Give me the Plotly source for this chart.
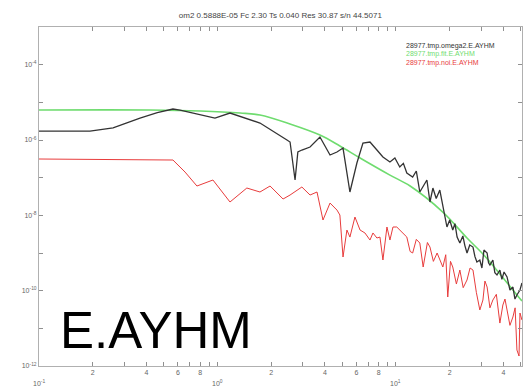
import math
import plotly.graph_objects as go

# Spectrum of the record (black)
sig_freq = [0.100, 0.193, 0.260, 0.368, 0.460, 0.563, 0.617, 0.968, 1.175, 1.73, 2.45, 2.55,
            2.72, 2.82, 2.97, 3.30, 3.75, 4.27, 4.67, 5.05, 5.52, 6.04, 6.53, 7.15, 7.82,
            8.45, 9.25, 9.86, 10.5, 11.0, 11.5, 12.4, 13.0, 13.6, 14.9, 15.5, 16.1, 16.8,
            17.6, 18.3, 19.3, 20.0, 20.8, 21.4, 22.0, 22.8, 23.7, 24.3, 25.0, 25.9, 27.0,
            27.7, 28.4, 29.5, 30.3, 31.1, 32.4, 33.0, 33.6, 34.9, 35.8, 36.8, 38.2, 39.2,
            40.3, 41.9, 42.7, 43.5, 45.2, 46.4, 47.6, 49.5, 50.8]
sig_amp = [1.73e-6, 1.73e-6, 2.10e-6, 3.83e-6, 5.30e-6, 6.64e-6, 6.25e-6, 3.83e-6, 5.20e-6,
           2.82e-6, 9.97e-7, 8.83e-7, 8.67e-8, 4.80e-7, 5.42e-7, 6.52e-7, 1.20e-6, 3.99e-7,
           4.80e-7, 6.12e-7, 4.16e-8, 2.45e-7, 8.31e-7, 8.83e-7, 5.42e-7, 3.53e-7, 2.60e-7,
           3.33e-7, 1.92e-7, 2.40e-7, 1.33e-7, 1.04e-7, 1.50e-7, 4.16e-8, 8.67e-8, 2.26e-8,
           5.31e-8, 2.80e-8, 4.70e-8, 1.66e-8, 4.90e-9, 7.52e-9, 4.07e-9, 6.00e-9, 2.65e-9,
           1.84e-9, 2.83e-9, 1.60e-9, 1.00e-9, 1.63e-9, 1.44e-9, 8.00e-10, 5.77e-10, 6.52e-10,
           4.00e-10, 1.20e-9, 1.00e-9, 5.50e-10, 4.80e-10, 6.52e-10, 3.00e-10, 2.61e-10,
           3.53e-10, 2.00e-10, 3.13e-10, 2.31e-10, 1.50e-10, 1.04e-10, 1.25e-10, 6.00e-11,
           7.68e-11, 1.04e-10, 1.60e-10]

# Fitted omega-square model (green)
fit_freq = [0.100, 0.42, 0.80, 1.34, 1.73, 2.55, 3.75, 4.85, 6.29, 9.25, 12.0, 18.3, 25.0,
            30.7, 38.2, 47.6, 50.8]
fit_amp = [6.25e-6, 6.25e-6, 5.88e-6, 5.20e-6, 4.60e-6, 2.65e-6, 1.35e-6, 6.92e-7, 3.33e-7,
           1.17e-7, 6.00e-8, 1.22e-8, 2.50e-9, 9.40e-10, 2.77e-10, 7.68e-11, 5.31e-11]

# Noise spectrum (red)
noise_freq = [0.100, 0.563, 0.658, 0.767, 0.943, 1.175, 1.46, 1.73, 1.97, 2.33, 2.55, 2.82,
              2.97, 3.30, 3.61, 3.90, 4.27, 4.67, 4.85, 5.05, 5.31, 5.52, 5.89, 6.29, 6.70,
              7.15, 7.43, 7.82, 8.13, 8.45, 8.90, 9.25, 9.62, 10.1, 10.5, 10.9, 11.5, 12.0,
              12.4, 13.0, 13.6, 14.2, 14.5, 15.0, 15.5, 16.2, 17.0, 17.6, 18.3, 19.0, 19.5,
              20.2, 20.8, 21.8, 22.8, 23.8, 25.0, 26.0, 27.0, 28.2, 29.5, 30.7, 31.5, 32.4,
              33.6, 34.9, 36.5, 38.2, 39.7, 40.8, 41.9, 43.5, 45.2, 46.5, 47.6, 48.9, 49.5,
              50.8]
noise_amp = [3.13e-7, 2.94e-7, 1.41e-7, 6.00e-8, 8.67e-8, 2.26e-8, 5.31e-8, 4.16e-8, 6.00e-8,
             2.71e-8, 3.46e-8, 4.70e-8, 5.65e-8, 3.46e-8, 4.16e-8, 7.52e-9, 2.12e-8, 1.38e-8,
             1.02e-8, 7.83e-10, 4.07e-9, 2.65e-9, 9.02e-9, 4.07e-9, 3.40e-9, 2.21e-9, 3.40e-9,
             2.50e-9, 2.65e-9, 6.52e-10, 4.90e-9, 2.21e-9, 4.90e-9, 4.90e-9, 4.07e-9, 3.61e-9,
             2.65e-9, 1.10e-9, 1.00e-9, 2.30e-9, 1.84e-9, 4.25e-10, 7.36e-10, 1.90e-9,
             1.44e-9, 6.00e-10, 1.00e-9, 7.00e-10, 4.25e-10, 9.00e-10, 6.79e-11, 6.00e-10,
             4.25e-10, 1.50e-10, 3.53e-10, 1.20e-10, 1.92e-10, 4.00e-10, 3.53e-10, 9.00e-11,
             3.07e-11, 5.65e-11, 1.80e-10, 1.25e-10, 3.50e-11, 5.65e-11, 8.00e-11, 1.38e-11,
             4.16e-11, 6.00e-11, 3.07e-11, 1.20e-11, 2.00e-11, 3.50e-11, 2.66e-12, 1.84e-12,
             2.55e-11, 1.66e-11]

legend_names = ["28977.tmp.omega2.E.AYHM", "28977.tmp.fit.E.AYHM", "28977.tmp.noi.E.AYHM"]
legend_colors = ["#333333", "#6fdc6f", "#e83c3c"]

title_text = "om2 0.5888E-05 Fc 2.30 Ts 0.040 Res 30.87 s/n 44.5071"
station = "E.AYHM"

# x ticks: every integer multiple within each decade, digits on 2/4/6/8
x_mults = list(range(1, 10))
x_tickvals = []
x_ticktext = []
for d in (0.1, 1, 10):
    for m in x_mults:
        if m * d <= 50:
            x_tickvals.append(m * d)
            x_ticktext.append(str(m) if m in (2, 4, 6, 8) else "")
x_decades = [0.1, 1, 10]
x_decade_text = ["10<sup>-1</sup>", "10<sup>0</sup>", "10<sup>1</sup>"]

y_exps = list(range(-12, -2))
y_tickvals = [10.0 ** e for e in y_exps]
y_ticktext = [("10<sup>%d</sup>" % e) if e % 2 == 0 and e <= -4 else " " for e in y_exps]

fig = go.Figure()
fig.add_trace(go.Scatter(x=fit_freq, y=fit_amp, mode="lines", line_shape="spline",
                         line=dict(color=legend_colors[1], width=1.6), name=legend_names[1]))
fig.add_trace(go.Scatter(x=sig_freq, y=sig_amp, mode="lines",
                         line=dict(color=legend_colors[0], width=1.3), name=legend_names[0]))
fig.add_trace(go.Scatter(x=noise_freq, y=noise_amp, mode="lines",
                         line=dict(color=legend_colors[2], width=1.0), name=legend_names[2]))

axis_common = dict(showgrid=False, zeroline=False, showline=True, linecolor="#b0b0b0",
                   linewidth=1, mirror="ticks", ticks="inside", tickcolor="#909090",
                   tickfont=dict(family="Liberation Sans", size=7, color="#666666"))

fig.update_xaxes(type="log", range=[-1, 1.706], tickvals=x_tickvals, ticktext=x_ticktext,
                 ticklen=4, **axis_common)
fig.update_yaxes(type="log", range=[-12, -3], tickvals=y_tickvals, ticktext=y_ticktext,
                 ticklen=4, **axis_common)

annotations = []
# decade labels sit on a second row under the digit labels (log axis -> log10 position)
for xv, txt in zip(x_decades, x_decade_text):
    annotations.append(dict(x=math.log10(xv), xref="x", y=-0.05, yref="paper", text=txt,
                            showarrow=False, xanchor="center", yanchor="middle",
                            font=dict(family="Liberation Sans", size=7, color="#666666")))
for i, (name, col) in enumerate(zip(legend_names, legend_colors)):
    annotations.append(dict(x=0.755, xref="paper", y=0.945 - i * 0.026, yref="paper",
                            text=name, showarrow=False, xanchor="left", yanchor="middle",
                            font=dict(family="Liberation Sans", size=7, color=col)))
annotations.append(dict(x=0.04, xref="paper", y=0.105, yref="paper", text=station,
                        showarrow=False, xanchor="left", yanchor="middle",
                        font=dict(family="Liberation Sans", size=51, color="#000000")))

fig.update_layout(
    width=524, height=389,
    margin=dict(l=39, r=2, t=27, b=23),
    paper_bgcolor="white", plot_bgcolor="white",
    showlegend=False,
    title=dict(text=title_text, x=0.535, xanchor="center", y=0.96, yanchor="middle",
               font=dict(family="Liberation Sans", size=8, color="#444444")),
    annotations=annotations,
)

fig.write_html("out.html")
